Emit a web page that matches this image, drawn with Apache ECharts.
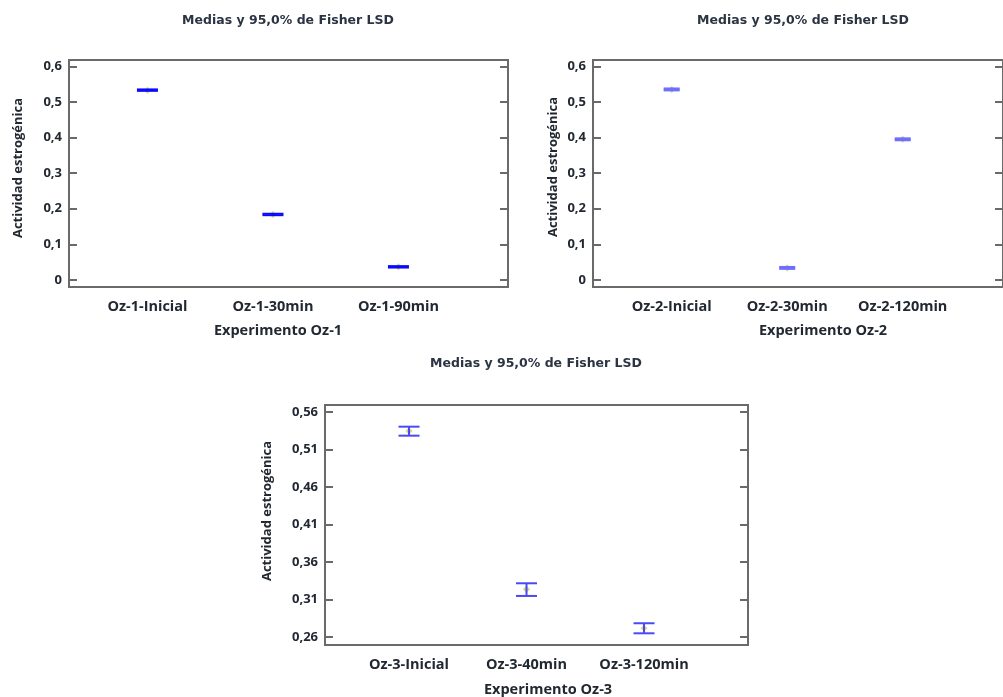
<!DOCTYPE html>
<html>
<head>
<meta charset="utf-8">
<script src="https://cdn.jsdelivr.net/npm/echarts@6/dist/echarts.min.js"></script>
<style>
html,body{margin:0;padding:0;background:#fff;}
#chart{width:1003px;height:697px;}
</style>
</head>
<body>
<div id="chart"></div>
<script>
// ---- data ----
const titleText = 'Medias y 95,0% de Fisher LSD';
const yName = 'Actividad estrogénica';

const categories1 = ['Oz-1-Inicial', 'Oz-1-30min', 'Oz-1-90min'];
const means1 = [0.533, 0.184, 0.037];
const low1 = [0.531, 0.182, 0.035];
const high1 = [0.535, 0.186, 0.039];
const xName1 = 'Experimento Oz-1';

const categories2 = ['Oz-2-Inicial', 'Oz-2-30min', 'Oz-2-120min'];
const means2 = [0.535, 0.034, 0.395];
const low2 = [0.533, 0.032, 0.393];
const high2 = [0.537, 0.036, 0.397];
const xName2 = 'Experimento Oz-2';

const categories3 = ['Oz-3-Inicial', 'Oz-3-40min', 'Oz-3-120min'];
const means3 = [0.5345, 0.3235, 0.2716];
const low3 = [0.5284, 0.3147, 0.2649];
const high3 = [0.5404, 0.3316, 0.2783];
const xName3 = 'Experimento Oz-3';

const yTicks12 = [0, 0.1, 0.2, 0.3, 0.4, 0.5, 0.6];
const yTicks3 = [0.26, 0.31, 0.36, 0.41, 0.46, 0.51, 0.56];

// ---- styling / layout ----
const frameColor = '#6a6a6a';
const textColor = '#222831';
const labelFont = 'Open Sans';
const tickFont = 'Open Sans';

const panels = [
  {cats: categories1, means: means1, low: low1, high: high1, xName: xName1, ticks: yTicks12,
   grid: {left: 69, top: 60, width: 439, height: 227}, xMin: -0.625, xMax: 2.873, yMin: -0.0196, yMax: 0.6176,
   capHalf: 10.5, barColor: '#0a0aff', barWidth: 2, decimals: 1},
  {cats: categories2, means: means2, low: low2, high: high2, xName: xName2, ticks: yTicks12,
   grid: {left: 593, top: 60, width: 417, height: 227}, xMin: -0.681, xMax: 2.868, yMin: -0.0196, yMax: 0.6176,
   capHalf: 8, barColor: '#6e6eff', barWidth: 2.5, decimals: 1},
  {cats: categories3, means: means3, low: low3, high: high3, xName: xName3, ticks: yTicks3,
   grid: {left: 325, top: 405, width: 423, height: 240}, xMin: -0.715, xMax: 2.885, yMin: 0.2493, yMax: 0.5693,
   capHalf: 10.5, barColor: '#4a4af5', barWidth: 2, decimals: 2}
];

const fmtComma = (v, d) => (Math.abs(v) < 1e-9 ? '0' : v.toFixed(d).replace('.', ','));

const option = {
  backgroundColor: '#ffffff',
  animation: false,
  grid: [], xAxis: [], yAxis: [], series: [], graphic: []
};

const titleCenters = [{x: 288, y: 20}, {x: 803, y: 20}, {x: 536, y: 363}];
const xNamePos = [{x: 278, y: 330}, {x: 823, y: 330}, {x: 548, y: 689}];
const yNamePos = [{x: 18, y: 168}, {x: 553, y: 167}, {x: 267, y: 511}];

panels.forEach((p, i) => {
  option.grid.push(Object.assign({show: true, borderColor: frameColor, borderWidth: 2, backgroundColor: 'transparent'}, p.grid));

  option.graphic.push({
    type: 'text', position: [titleCenters[i].x, titleCenters[i].y + 1],
    style: {text: titleText, x: 0, y: 0, align: 'center', verticalAlign: 'middle',
      font: 'bold 12.5px "DejaVu Sans"', fill: '#2b3442'}
  });

  // x axis (value scale with category positions)
  option.xAxis.push({
    type: 'value', gridIndex: i, min: p.xMin, max: p.xMax,
    axisLine: {show: false, onZero: false}, axisTick: {show: false}, splitLine: {show: false},
    axisLabel: {
      customValues: [0, 1, 2], margin: 12,
      formatter: v => p.cats[Math.round(v)],
      color: textColor, fontFamily: labelFont, fontWeight: 'bold', fontSize: 14.5
    }
  });
  // left y axis
  option.yAxis.push({
    type: 'value', gridIndex: i, min: p.yMin, max: p.yMax, position: 'left',
    axisLine: {show: false, onZero: false}, splitLine: {show: false},
    axisTick: {show: true, inside: true, length: 8, customValues: p.ticks, lineStyle: {color: frameColor, width: 2}},
    axisLabel: {customValues: p.ticks, margin: 7, formatter: v => fmtComma(v, p.decimals),
      color: textColor, fontFamily: tickFont, fontWeight: 'bold', fontSize: 13}
  });
  // right y axis (ticks only)
  option.yAxis.push({
    type: 'value', gridIndex: i, min: p.yMin, max: p.yMax, position: 'right',
    axisLine: {show: false, onZero: false}, splitLine: {show: false}, axisLabel: {show: false},
    axisTick: {show: true, inside: true, length: 8, customValues: p.ticks, lineStyle: {color: frameColor, width: 2}}
  });

  const yIdx = i * 2;
  const meanData = p.means.map((m, k) => [k, m]);
  const barData = p.low.map((lo, k) => [k, lo, p.high[k]]);

  option.series.push({
    type: 'scatter', xAxisIndex: i, yAxisIndex: yIdx, data: meanData,
    symbol: 'diamond', symbolSize: 7, z: 2,
    itemStyle: {color: '#cfcc6c', opacity: 0.85}
  });
  option.series.push({
    type: 'custom', xAxisIndex: i, yAxisIndex: yIdx, data: barData, z: 3,
    renderItem: (params, api) => {
      const x = api.value(0);
      const lo = api.coord([x, api.value(1)]);
      const hi = api.coord([x, api.value(2)]);
      const style = {stroke: p.barColor, lineWidth: p.barWidth};
      return {type: 'group', children: [
        {type: 'line', shape: {x1: hi[0], y1: hi[1], x2: lo[0], y2: lo[1]}, style: style},
        {type: 'line', shape: {x1: hi[0] - p.capHalf, y1: hi[1], x2: hi[0] + p.capHalf, y2: hi[1]}, style: style},
        {type: 'line', shape: {x1: lo[0] - p.capHalf, y1: lo[1], x2: lo[0] + p.capHalf, y2: lo[1]}, style: style}
      ]};
    }
  });

  option.graphic.push({
    type: 'text', position: [xNamePos[i].x, xNamePos[i].y + 1],
    style: {text: p.xName, x: 0, y: 0, align: 'center', verticalAlign: 'middle',
      font: 'bold 14.5px "Open Sans"', fill: textColor}
  });
  option.graphic.push({
    type: 'text', position: [yNamePos[i].x, yNamePos[i].y], rotation: Math.PI / 2,
    style: {text: yName, x: 0, y: 0, align: 'center', verticalAlign: 'middle',
      font: 'bold 13px "Open Sans"', fill: textColor}
  });
});

const chart = echarts.init(document.getElementById('chart'), null, {renderer: 'canvas', width: 1003, height: 697});
chart.setOption(option);
</script>
</body>
</html>
